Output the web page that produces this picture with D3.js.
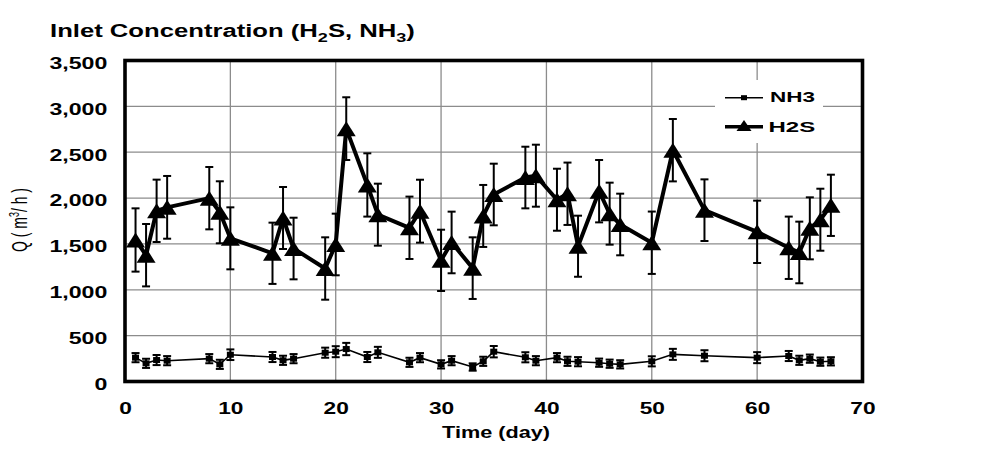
<!DOCTYPE html>
<html>
<head>
<meta charset="utf-8">
<script src="https://cdn.jsdelivr.net/npm/d3@7"></script>
<style>
  html, body { margin: 0; padding: 0; background: #fff; }
  svg { display: block; font-family: "Liberation Sans", Arial, sans-serif; }
</style>
</head>
<body>
<svg id="chart" width="996" height="471"></svg>
<script>
// ---------- data ----------
const days = [1, 2, 3, 4, 8, 9, 10, 14, 15, 16, 19, 20, 21, 23, 24, 27, 28, 30, 31, 33, 34, 35,
              38, 39, 41, 42, 43, 45, 46, 47, 50, 52, 55, 60, 63, 64, 65, 66, 67];
const h2s = [1543, 1377, 1861, 1899, 1999, 1845, 1561, 1398, 1783, 1450, 1232, 1494, 2757, 2143,
             1819, 1676, 1857, 1321, 1516, 1236, 1805, 2039, 2224, 2244, 1982, 2047, 1475, 2075,
             1830, 1712, 1513, 2522, 1868, 1632, 1458, 1407, 1670, 1764, 1921];
const h2sErr = [345, 340, 340, 342, 340, 338, 338, 334, 338, 336, 340, 336, 342, 345, 338, 340,
                343, 334, 336, 336, 338, 336, 336, 338, 338, 340, 333, 340, 338, 336, 340, 340,
                336, 340, 340, 336, 338, 338, 334];
const nh3 = [260, 198, 234, 227, 249, 187, 292, 267, 231, 249, 314, 325, 354, 267, 318, 209, 260,
             187, 227, 158, 220, 325, 264, 227, 260, 220, 216, 205, 194, 187, 220, 296, 281, 260,
             278, 231, 249, 216, 220];
const nh3Err = [50, 50, 55, 50, 50, 50, 58, 55, 50, 50, 55, 60, 67, 55, 60, 50, 50, 45, 50, 40,
                50, 62, 55, 50, 50, 50, 50, 45, 45, 45, 55, 60, 60, 60, 55, 50, 45, 45, 45];
const xTicks = [0, 10, 20, 30, 40, 50, 60, 70];
const yTicks = [0, 500, 1000, 1500, 2000, 2500, 3000, 3500];
const seriesNames = ["NH3", "H2S"];

// ---------- layout ----------
const svg = d3.select("#chart");
const SX = 1.42;              // horizontal stretch of text in the reference
const L = 125, R = 862.5, T = 60.5, B = 381.5;
const x = d3.scaleLinear().domain([0, 70]).range([L, R]);
const y = d3.scaleLinear().domain([0, 3500]).range([B, T]);
const gridColor = "#8c8c8c";

// gridlines
svg.append("g").selectAll("line.h").data(yTicks.filter(d => d > 0 && d < 3500)).join("line")
  .attr("x1", L).attr("x2", R).attr("y1", d => y(d)).attr("y2", d => y(d))
  .attr("stroke", gridColor).attr("stroke-width", 1.3);
svg.append("g").selectAll("line.v").data(xTicks.filter(d => d > 0 && d < 70)).join("line")
  .attr("x1", d => x(d)).attr("x2", d => x(d)).attr("y1", T).attr("y2", B)
  .attr("stroke", gridColor).attr("stroke-width", 1.3);

// ---------- series ----------
const h2sData = days.map((d, i) => ({x: d, y: h2s[i], e: h2sErr[i]}));
const nh3Data = days.map((d, i) => ({x: d, y: nh3[i], e: nh3Err[i]}));

function errorBars(data, cap, sw) {
  const g = svg.append("g").attr("stroke", "#000").attr("stroke-width", sw);
  data.forEach(p => {
    const cx = x(p.x), y1 = y(p.y + p.e), y2 = y(p.y - p.e);
    g.append("line").attr("x1", cx).attr("x2", cx).attr("y1", y1).attr("y2", y2);
    g.append("line").attr("x1", cx - cap / 2).attr("x2", cx + cap / 2).attr("y1", y1).attr("y2", y1);
    g.append("line").attr("x1", cx - cap / 2).attr("x2", cx + cap / 2).attr("y1", y2).attr("y2", y2);
  });
}
const line = d3.line().x(d => x(d.x)).y(d => y(d.y));

function triPath(w, h) {
  return `M0,${-h / 2}L${w / 2},${h / 2}L${-w / 2},${h / 2}Z`;
}

// NH3
errorBars(nh3Data, 8, 2);
svg.append("path").datum(nh3Data).attr("d", line)
  .attr("fill", "none").attr("stroke", "#000").attr("stroke-width", 1.6);
svg.append("g").selectAll("rect").data(nh3Data).join("rect")
  .attr("x", d => x(d.x) - 3.5).attr("y", d => y(d.y) - 3).attr("width", 7).attr("height", 6)
  .attr("fill", "#000");

// H2S
errorBars(h2sData, 8, 2);
svg.append("path").datum(h2sData).attr("d", line)
  .attr("fill", "none").attr("stroke", "#000").attr("stroke-width", 4).attr("stroke-linejoin", "round");
svg.append("g").selectAll("path").data(h2sData).join("path")
  .attr("transform", d => `translate(${x(d.x)},${y(d.y)})`)
  .attr("d", triPath(19, 15)).attr("fill", "#000");

// ---------- axes ----------
const yAxis = svg.append("g").attr("transform", `translate(${L},0)`)
  .call(d3.axisLeft(y).tickValues(yTicks).tickSize(0).tickFormat(d3.format(",")));
yAxis.select(".domain").remove();
yAxis.selectAll("text")
  .attr("x", -17.7 / SX).attr("dy", null).attr("y", 7.8)
  .attr("transform", `scale(${SX},1)`)
  .attr("font-size", 16.3).attr("font-weight", "bold").attr("fill", "#000")
  .attr("font-family", "Liberation Sans, Arial, sans-serif");

const xAxis = svg.append("g").attr("transform", `translate(0,${B})`)
  .call(d3.axisBottom(x).tickValues(xTicks).tickSize(0));
xAxis.select(".domain").remove();
xAxis.selectAll("text")
  .attr("x", 0).attr("dy", null).attr("y", 32.8)
  .attr("transform", `scale(${SX},1)`)
  .attr("font-size", 16).attr("font-weight", "bold").attr("fill", "#000")
  .attr("font-family", "Liberation Sans, Arial, sans-serif");

// plot border
svg.append("rect").attr("x", L).attr("y", T).attr("width", R - L).attr("height", B - T)
  .attr("fill", "none").attr("stroke", "#000").attr("stroke-width", 3.6);

// ---------- texts ----------
function fitWidth(sel, target) {
  const len = sel.node().getComputedTextLength();
  return target / len;
}

// title
const title = svg.append("text").attr("font-size", 18.5).attr("font-weight", "bold").attr("fill", "#000");
title.append("tspan").text("Inlet Concentration (H");
title.append("tspan").attr("font-size", 13).attr("dy", 4.4).text("2");
title.append("tspan").attr("dy", -4.4).text("S, NH");
title.append("tspan").attr("font-size", 13).attr("dy", 4.4).text("3");
title.append("tspan").attr("dy", -4.4).text(")");
const tS = fitWidth(title, 365);
title.attr("transform", `translate(50,37.3) scale(${tS},1)`);

// x axis title
const xt = svg.append("text").attr("font-size", 16).attr("font-weight", "bold")
  .attr("text-anchor", "middle").attr("fill", "#000").text("Time (day)");
const xtS = fitWidth(xt, 108);
xt.attr("transform", `translate(496,438.3) scale(${xtS},1)`);

// y axis title
const yt = svg.append("text").attr("font-size", 14).attr("text-anchor", "middle").attr("fill", "#000");
yt.append("tspan").text("Q ( m");
yt.append("tspan").attr("font-size", 9).attr("dy", -5).text("3");
yt.append("tspan").attr("dy", 5).text("/ h )");
const ytS = fitWidth(yt, 64);
yt.attr("transform", `translate(26.5,220) rotate(-90) scale(${ytS},1.6)`);

// ---------- legend ----------
const lg = svg.append("g");
lg.append("rect").attr("x", 715).attr("y", 80).attr("width", 108).attr("height", 63).attr("fill", "#fff");
// NH3
lg.append("line").attr("x1", 725).attr("x2", 763).attr("y1", 97.7).attr("y2", 97.7)
  .attr("stroke", "#000").attr("stroke-width", 1.6);
lg.append("rect").attr("x", 744 - 3).attr("y", 97.7 - 2.5).attr("width", 6).attr("height", 5).attr("fill", "#000");
// H2S
lg.append("line").attr("x1", 725).attr("x2", 763).attr("y1", 126.7).attr("y2", 126.7)
  .attr("stroke", "#000").attr("stroke-width", 3.5);
lg.append("path").attr("transform", "translate(744,125.5)").attr("d", triPath(15, 11)).attr("fill", "#000");
const legY = [102.3, 131.7];
seriesNames.forEach((n, i) => {
  const t = lg.append("text").attr("font-size", 15).attr("font-weight", "bold").attr("fill", "#000").text(n);
  const s = fitWidth(t, i === 0 ? 45 : 46.7);
  t.attr("transform", `translate(${i === 0 ? 770 : 768.5},${legY[i]}) scale(${s},1)`);
});
</script>
</body>
</html>
